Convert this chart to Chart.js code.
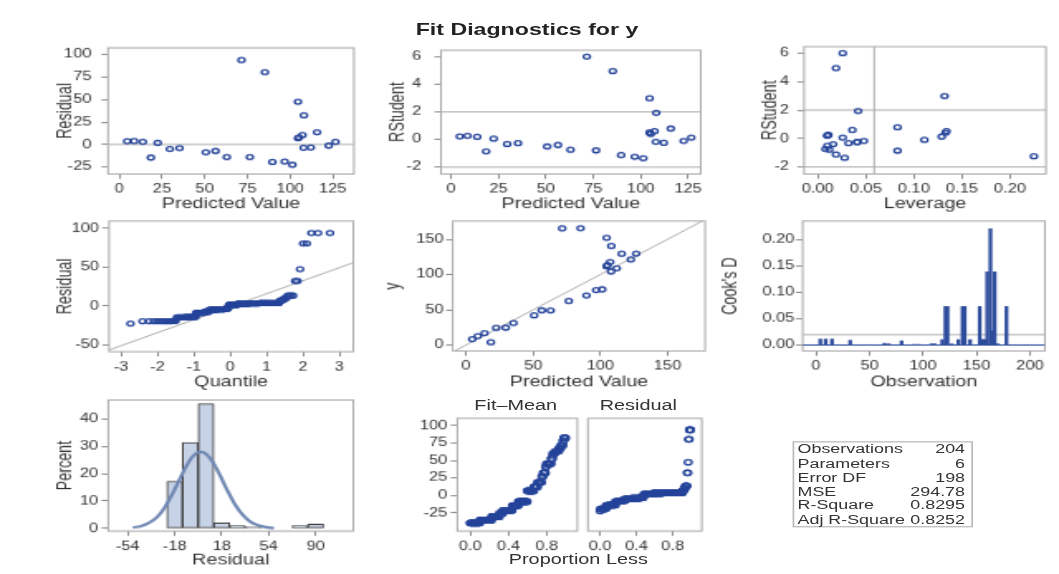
<!DOCTYPE html>
<html>
<head>
<meta charset="utf-8">
<script src="https://cdn.jsdelivr.net/npm/chart.js@4.4.1/dist/chart.umd.min.js"></script>
<style>
  html, body { margin: 0; padding: 0; background: #fff; overflow: hidden; width: 1059px; height: 574px; }
  /* the picture is a 640x480 graph stretched to 1059x574 */
  #stage { position: absolute; left: 0; top: 0; width: 640px; height: 480px;
           transform-origin: 0 0; transform: scale(1.6547, 1.1958);
           font-family: 'Liberation Sans', Arial, sans-serif; color: #333; }
  #stage canvas { position: absolute; }
  .lbl { position: absolute; width: 200px; text-align: center; white-space: nowrap; }
  #title { left: 218.5px; top: 15px; font-size: 14px; font-weight: bold; line-height: 18px; color: #222; }
  .sub { font-size: 12px; line-height: 14px; }
  #stats { position: absolute; left: 478.5px; top: 369.4px; width: 109.7px; height: 71.6px;
           box-sizing: border-box; border: 1px solid #b8b8b8; font-size: 10.8px; color: #333; }
  #stats div { display: flex; justify-content: space-between; height: 11.72px; line-height: 11.72px;
               padding: 0 4px 0 2.5px; }
</style>
</head>
<body>
<div id="stage">
  <div id="title" class="lbl">Fit Diagnostics for y</div>
  <div class="lbl sub" style="left:211.7px; top:331.7px;">Fit–Mean</div>
  <div class="lbl sub" style="left:285.8px; top:331.7px;">Residual</div>
  <div class="lbl sub" style="left:249.5px; top:461.3px;">Proportion Less</div>
  <div id="stats"></div>
</div>
<script>
// distinct observations (many rows share the same fit)
const predicted = [4.6, 8.7, 13.8, 18.5, 22.5, 29.6, 35.3, 50.7, 56.4, 63.0, 71.6, 76.5, 85.3,
                   89.7, 96.9, 101.4, 104.7, 104.7, 105.3, 107.3, 108.2, 108.0, 112.2, 115.9, 122.7, 126.7];
const residual  = [3.7, 3.9, 3.0, -14.5, 1.8, -5.0, -4.0, -8.6, -7.2, -14.0, 94.0, -14.0, 80.5,
                   -19.4, -19.0, -22.5, 47.5, 7.0, 8.0, 10.5, 32.4, -3.6, -3.3, 13.6, -1.2, 3.0];
const rstudent  = [0.22, 0.26, 0.19, -0.86, 0.06, -0.33, -0.26, -0.51, -0.40, -0.74, 6.0, -0.79, 4.95,
                   -1.13, -1.25, -1.36, 2.98, 0.51, 0.40, 0.60, 1.93, -0.17, -0.24, 0.79, -0.10, 0.13];
const leverage  = [0.010, 0.011, 0.010, 0.083, 0.026, 0.032, 0.041, 0.010, 0.016, 0.008, 0.026, 0.012, 0.019,
                   0.019, 0.225, 0.028, 0.132, 0.134, 0.133, 0.036, 0.042, 0.048, 0.041, 0.083, 0.111, 0.129];
const obsCount  = [21, 25, 17, 7, 20, 13, 19, 14, 8, 9, 3, 5, 2, 10, 3, 1, 1, 2, 2, 2, 2, 4, 4, 4, 2, 4];

const rstudentLimits = [-2, 2];
const leverageCutoff = 0.0588;
const cooksCutoff = 0.0196;
const qqLineQ = [-3.33, 3.38];
const qqLineR = [-56.4, 55.8];

const histMid = [-18, -6, 6, 18, 30, 42, 54, 66, 78, 90];
const histPct = [17.2, 31.4, 45.6, 2.0, 1.0, 0.5, 0, 0, 1.0, 1.5];
const curveX = [-50, -44, -38, -32, -26, -20, -14, -8, -2, 4, 10, 16, 22, 28, 34, 40, 46, 52, 58];
const curveY = [0.3, 0.8, 1.9, 3.9, 7.4, 12.4, 18.2, 23.7, 27.3, 27.8, 25.1, 20.1, 14.2, 8.9, 5.0, 2.4, 1.1, 0.4, 0.1];

const cooksObs = [4, 9, 15, 32, 64, 68, 80, 92, 96, 108, 111, 118, 121, 123, 127, 133, 137, 139,
                  144, 153, 155, 156, 158, 160, 163, 165, 167, 170, 178];
const cooksD   = [0.011, 0.011, 0.011, 0.009, 0.003, 0.002, 0.008, 0.001, 0.001, 0.002, 0.002, 0.010, 0.073, 0.073,
                  0.002, 0.010, 0.073, 0.073, 0.010, 0.073, 0.010, 0.010, 0.010, 0.139, 0.221, 0.027, 0.139, 0.002, 0.073];

const statLabels = ['Observations', 'Parameters', 'Error DF', 'MSE', 'R-Square', 'Adj R-Square'];
const statValues = ['204', '6', '198', '294.78', '0.8295', '0.8252'];

// tick labels
const ticksPred = [0, 25, 50, 75, 100, 125];
const ticksResid = [-25, 0, 25, 50, 75, 100];
const ticksRStudent = [-2, 0, 2, 4, 6];
const ticksLeverage = [0, 0.05, 0.10, 0.15, 0.20];
const ticksQuantile = [-3, -2, -1, 0, 1, 2, 3];
const ticksQQ = [-50, 0, 50, 100];
const ticksFit = [0, 50, 100, 150];
const ticksObs = [0, 50, 100, 150, 200];
const ticksCooks = [0, 0.05, 0.10, 0.15, 0.20];
const ticksHist = [-54, -18, 18, 54, 90];
const ticksPercent = [0, 10, 20, 30, 40];
const ticksProp = [0, 0.4, 0.8];
const ticksSpread = [-25, 0, 25, 50, 75, 100];

const MARK = '#25449a';
const REF = '#adadad';
const NEEDLE = '#2d4c9c';

Chart.defaults.font.family = "'Liberation Sans', Arial, sans-serif";
Chart.defaults.color = '#333';

// panel boxes in 640x480 space: plot frame, canvas left / bottom, y tick label gap
const geo = {
    p1: { l: 65.3, t: 36.0, r: 213.9, b: 145.5, cl: 32.7, cb: 177.4, yp: 6 },
    p2: { l: 266.5, t: 36.2, r: 423.5, b: 145.5, cl: 233.0, cb: 177.4, yp: 8 },
    p3: { l: 485.9, t: 36.2, r: 632.1, b: 145.5, cl: 458.6, cb: 177.4, yp: 5 },
    p4: { l: 65.9, t: 184.8, r: 213.5, b: 294.1, cl: 32.7, cb: 326.4, yp: 2 },
    p5: { l: 273.6, t: 184.8, r: 426.1, b: 293.5, cl: 230.5, cb: 326.4, yp: 1.5 },
    p6: { l: 485.1, t: 184.8, r: 631.5, b: 293.5, cl: 434.0, cb: 326.4, yp: 1 },
    p7: { l: 65.4, t: 334.5, r: 213.5, b: 444.1, cl: 32.7, cb: 475.5, yp: 2 },
    p8a: { l: 276.4, t: 349.8, r: 348.9, b: 444.1, cl: 246.4, cb: 464, yp: 2 },
    p8b: { l: 351.6, t: 349.8, r: 424.1, b: 444.1, cl: 350.6, cb: 464, yp: 2 }
};

const framePlugin = {
    id: 'frame',
    beforeDatasetsDraw(chart) {
        const { ctx, chartArea: a } = chart;
        ctx.save();
        ctx.strokeStyle = '#a8a8a8';
        ctx.lineWidth = 1;
        ctx.strokeRect(a.left, a.top, a.right - a.left, a.bottom - a.top);
        ctx.restore();
    }
};

function axis(min, max, ticks, digits, title, isX, showLabels = true) {
    return {
        type: 'linear', min, max, offset: false,
        afterBuildTicks: s => { s.ticks = ticks.map(v => ({ value: v })); },
        ticks: { display: showLabels, autoSkip: false, maxRotation: 0, padding: 3,
                 color: '#333', font: { size: 10 }, callback: v => Number(v).toFixed(digits) },
        grid: { drawOnChartArea: false, drawTicks: showLabels, tickLength: 4, tickColor: '#8c8c8c', offset: false },
        border: { display: false },
        title: { display: !!title, text: title || '', color: '#333', font: { size: 12 }, padding: 0 }
    };
}

function panel(g, xAxis, yAxis, datasets, type) {
    const cv = document.createElement('canvas');
    const left = Math.floor(g.cl), top = Math.floor(g.t - 8);
    const W = Math.ceil(g.r + 6 - left), H = Math.ceil(g.cb - top);
    cv.width = W; cv.height = H;
    cv.style.left = left + 'px';
    cv.style.top = top + 'px';
    document.getElementById('stage').appendChild(cv);
    const yW = g.l - left, xH = top + H - g.b;
    xAxis.afterFit = s => { s.height = xH; };
    yAxis.afterFit = s => { s.width = yW; };
    yAxis.ticks.padding = g.yp;
    return new Chart(cv, {
        type: type || 'scatter',
        data: { datasets },
        options: {
            responsive: false, animation: false, devicePixelRatio: 1, events: [],
            layout: { padding: { left: 0, top: g.t - top, right: left + W - g.r, bottom: 0 } },
            plugins: { legend: { display: false }, tooltip: { enabled: false } },
            scales: { x: xAxis, y: yAxis }
        },
        plugins: [framePlugin]
    });
}

function marks(points, r) {
    return { type: 'scatter', data: points, pointStyle: 'circle', pointRadius: r || 2,
             pointBorderWidth: 1.3, borderColor: MARK, backgroundColor: 'rgba(0,0,0,0)', order: 1 };
}
function line(points, color, width) {
    return { type: 'scatter', data: points, showLine: true, borderColor: color || REF,
             borderWidth: width || 1, pointRadius: 0, order: 5 };
}
const hline = (y, x0, x1, c) => line([{ x: x0, y }, { x: x1, y }], c);
const vline = (x, y0, y1, c) => line([{ x, y: y0 }, { x, y: y1 }], c);

// inverse normal CDF (Acklam) for the quantile plot
function normInv(p) {
    const a = [-39.69683028665376, 220.9460984245205, -275.9285104469687, 138.357751867269, -30.66479806614716, 2.506628277459239];
    const b = [-54.47609879822406, 161.5858368580409, -155.6989798598866, 66.80131188771972, -13.28068155288572];
    const c = [-0.007784894002430293, -0.3223964580411365, -2.400758277161838, -2.549732539343734, 4.374664141464968, 2.938163982698783];
    const d = [0.007784695709041462, 0.3224671290700398, 2.445134137142996, 3.754408661907416];
    const lo = 0.02425;
    let q, r;
    if (p < lo || p > 1 - lo) {
        q = Math.sqrt(-2 * Math.log(p < lo ? p : 1 - p));
        const v = (((((c[0] * q + c[1]) * q + c[2]) * q + c[3]) * q + c[4]) * q + c[5]) /
                  ((((d[0] * q + d[1]) * q + d[2]) * q + d[3]) * q + 1);
        return p < lo ? v : -v;
    }
    q = p - 0.5; r = q * q;
    return (((((a[0] * r + a[1]) * r + a[2]) * r + a[3]) * r + a[4]) * r + a[5]) * q /
           (((((b[0] * r + b[1]) * r + b[2]) * r + b[3]) * r + b[4]) * r + 1);
}

// expand the distinct rows to all 204 observations
const allResid = [], allFit = [];
obsCount.forEach((n, i) => { for (let k = 0; k < n; k++) { allResid.push(residual[i]); allFit.push(predicted[i]); } });
const nObs = allResid.length;
const meanFit = allFit.reduce((s, v) => s + v, 0) / nObs;
const sortedResid = allResid.slice().sort((a, b) => a - b);
const sortedFit = allFit.map(v => v - meanFit).sort((a, b) => a - b);

// 1. Residual vs predicted
panel(geo.p1, axis(-6.6, 137.5, ticksPred, 0, 'Predicted Value', true), axis(-32.8, 107.5, ticksResid, 0, 'Residual'), [
    hline(0, -6.6, 137.5),
    marks(predicted.map((x, i) => ({ x, y: residual[i] })))
]);

// 2. RStudent vs predicted
panel(geo.p2, axis(-5.3, 131.7, ticksPred, 0, 'Predicted Value', true), axis(-2.5, 6.46, ticksRStudent, 0, 'RStudent'), [
    ...rstudentLimits.map(v => hline(v, -5.3, 131.7)),
    marks(predicted.map((x, i) => ({ x, y: rstudent[i] })))
]);

// 3. RStudent vs leverage
panel(geo.p3, axis(-0.0143, 0.2375, ticksLeverage, 2, 'Leverage', true), axis(-2.5, 6.46, ticksRStudent, 0, 'RStudent'), [
    ...rstudentLimits.map(v => hline(v, -0.0143, 0.2375)),
    vline(leverageCutoff, -2.5, 6.46),
    marks(leverage.map((x, i) => ({ x, y: rstudent[i] })))
]);

// 4. normal quantile plot of residuals
panel(geo.p4, axis(-3.33, 3.38, ticksQuantile, 0, 'Quantile', true), axis(-58.6, 109.4, ticksQQ, 0, 'Residual'), [
    line(qqLineQ.map((x, i) => ({ x, y: qqLineR[i] }))),
    marks(sortedResid.map((y, i) => ({ x: normInv((i + 1 - 0.375) / (nObs + 0.25)), y })))
]);

// 5. observed vs predicted
panel(geo.p5, axis(-9.9, 178, ticksFit, 0, 'Predicted Value', true), axis(-8.5, 176, ticksFit, 0, 'y'), [
    line([{ x: -12, y: -12 }, { x: 180, y: 180 }]),
    marks(predicted.map((x, i) => ({ x, y: x + residual[i] })))
]);

// 6. Cook's D by observation
panel(geo.p6, axis(-12.4, 214, ticksObs, 0, 'Observation', true), axis(-0.0114, 0.236, ticksCooks, 2, "Cook's D"), [
    hline(cooksCutoff, -12.4, 214),
    { ...hline(0, -12.4, 214, NEEDLE), order: 0 },
    { type: 'bar', data: cooksObs.map((x, i) => ({ x, y: cooksD[i] })), backgroundColor: NEEDLE,
      barThickness: 1.6, borderWidth: 0, order: 1 }
], 'bar');

// 7. residual histogram with normal curve
panel(geo.p7, axis(-68.9, 118.8, ticksHist, 0, 'Residual', true), axis(-1, 47, ticksPercent, 0, 'Percent'), [
    { type: 'bar', data: histMid.map((x, i) => ({ x, y: histPct[i] })), backgroundColor: '#c6d2e5',
      borderColor: '#3a3a3a', borderWidth: 1, borderSkipped: false, barPercentage: 1, categoryPercentage: 1, order: 2 },
    { type: 'scatter', data: curveX.map((x, i) => ({ x, y: curveY[i] })), showLine: true, tension: 0.4,
      borderColor: '#7088b3', borderWidth: 2.2, pointRadius: 0, order: 1 }
], 'bar');

// 8. residual-fit spread plot
panel(geo.p8a, axis(-0.135, 1.12, ticksProp, 1, '', true), axis(-51.3, 110.6, ticksSpread, 0, ''), [
    marks(sortedFit.map((y, i) => ({ x: i / nObs, y })), 2.2)
]);
panel(geo.p8b, axis(-0.135, 1.12, ticksProp, 1, '', true), axis(-51.3, 110.6, ticksSpread, 0, '', false, false), [
    marks(sortedResid.map((y, i) => ({ x: i / nObs, y })), 2.2)
]);

// fit statistics table
document.getElementById('stats').innerHTML = statLabels
    .map((s, i) => `<div><span>${s}</span><span>${statValues[i]}</span></div>`).join('');
</script>
</body>
</html>
